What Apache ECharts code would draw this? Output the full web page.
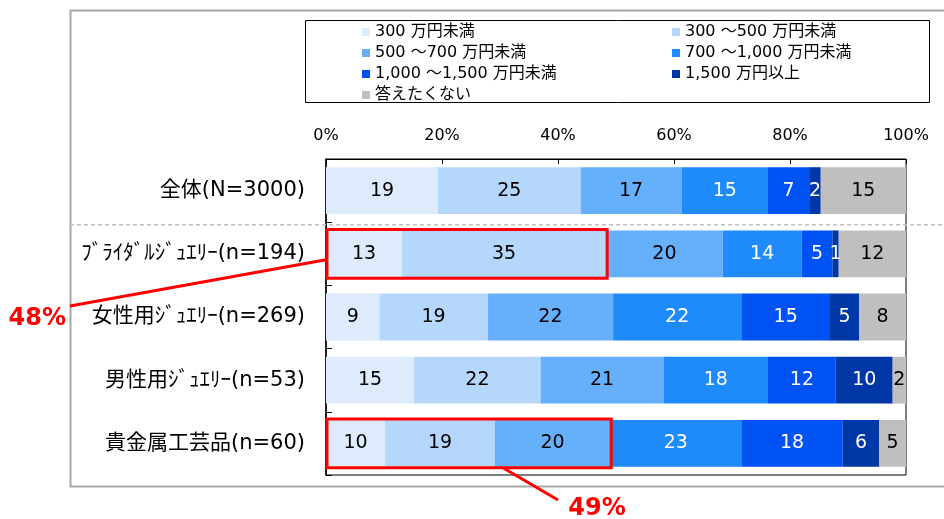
<!DOCTYPE html>
<html><head><meta charset="utf-8">
<script src="https://cdn.jsdelivr.net/npm/echarts@6/dist/echarts.min.js"></script>
<style>html,body{margin:0;padding:0;background:#fff}#c{width:944px;height:519px}</style>
</head><body><div id="c"></div>
<script>
// ---- data ----
const categories = ['全体(N=3000)', 'ﾌﾞﾗｲﾀﾞﾙｼﾞｭｴﾘｰ(n=194)', '女性用ｼﾞｭｴﾘｰ(n=269)', '男性用ｼﾞｭｴﾘｰ(n=53)', '貴金属工芸品(n=60)'];
const seriesNames = ['300 万円未満', '300 ～500 万円未満', '500 ～700 万円未満', '700 ～1,000 万円未満', '1,000 ～1,500 万円未満', '1,500 万円以上', '答えたくない'];
const under300   = [19.3, 13.1, 9.2, 15.2, 10.2];
const r300_500   = [24.6, 35.2, 18.7, 21.8, 18.9];
const r500_700   = [17.4, 20.1, 21.6, 21.2, 19.9];
const r700_1000  = [14.9, 13.6, 22.1, 18.0, 22.6];
const r1000_1500 = [7.1, 5.3, 15.3, 11.7, 17.5];
const over1500   = [2.0, 1.1, 5.0, 9.8, 6.3];
const noAnswer   = [14.7, 11.6, 8.1, 2.3, 4.6];
const xTicks = [0, 20, 40, 60, 80, 100];
const annotations = [{ cat: 1, upto: 2, text: '48%' }, { cat: 4, upto: 3, text: '49%' }];

const values = [under300, r300_500, r500_700, r700_1000, r1000_1500, over1500, noAnswer];
const colors = ['#DDEBFD', '#B5D7FB', '#66AFFB', '#1F8BFA', '#0052F2', '#0037A6', '#BFBFBF'];
const labelColors = ['#000', '#000', '#000', '#fff', '#fff', '#fff', '#000'];
const latin = 'DejaVu Sans, "Noto Sans CJK JP", sans-serif';

const chart = echarts.init(document.getElementById('c'), null, { renderer: 'canvas' });
const series = seriesNames.map((n, i) => ({
  name: n, type: 'bar', stack: 'total', data: values[i],
  barCategoryGap: '26%',
  itemStyle: { color: colors[i] },
  label: { show: true, position: 'inside', color: labelColors[i], fontSize: 19, fontFamily: latin,
           formatter: p => Math.round(p.value) },
  emphasis: { disabled: true }
}));

const legendText = { fontSize: 16, fontFamily: latin, color: '#000', lineHeight: 16 };
chart.setOption({
  animation: false,
  grid: { left: 326, right: 38, top: 159, bottom: 44, show: true, borderColor: '#000', borderWidth: 1, backgroundColor: 'transparent' },
  legend: [
    { data: [seriesNames[0], seriesNames[2], seriesNames[4], seriesNames[6]], orient: 'vertical', left: 357, top: 19,
      itemWidth: 8, itemHeight: 8, itemGap: 5, icon: 'rect', selectedMode: false, textStyle: legendText },
    { data: [seriesNames[1], seriesNames[3], seriesNames[5]], orient: 'vertical', left: 667, top: 19,
      itemWidth: 8, itemHeight: 8, itemGap: 5, icon: 'rect', selectedMode: false, textStyle: legendText }
  ],
  xAxis: {
    type: 'value', position: 'top', min: xTicks[0], max: xTicks[xTicks.length - 1], interval: 20,
    axisLine: { show: true, lineStyle: { color: '#000', width: 1 } },
    axisTick: { show: true, inside: true, length: 5, lineStyle: { color: '#000' } },
    splitLine: { show: false },
    axisLabel: { formatter: '{value}%', fontSize: 16, fontFamily: latin, color: '#000', margin: 15 }
  },
  yAxis: {
    type: 'category', inverse: true, data: categories,
    axisLine: { show: true, lineStyle: { color: '#000', width: 1.5 } },
    axisTick: { show: true, inside: true, length: 6, lineStyle: { color: '#000' } },
    axisLabel: { fontSize: 21, fontFamily: latin, color: '#000', margin: 21 }
  },
  series: series
});

// annotations computed via the library's scales
const px = v => chart.convertToPixel({ xAxisIndex: 0 }, v);
const py = c => chart.convertToPixel({ yAxisIndex: 0 }, c);
const band = py(1) - py(0);
const barH = band * (1 - 0.26);
const rects = annotations.map(a => {
  let s = 0; for (let k = 0; k < a.upto; k++) s += values[k][a.cat];
  const x0 = px(0), x1 = px(s), yc = py(a.cat);
  return { x0, x1, y0: yc - barH / 2 - 1, y1: yc + barH / 2 + 1, yc };
});
const red = '#FF0000';
const r1 = rects[0], r2 = rects[1];
chart.setOption({
  graphic: [
    { type: 'rect', shape: { x: 70.5, y: 10.5, width: 900, height: 476 }, style: { fill: 'none', stroke: '#A6A6A6', lineWidth: 2 }, z: 0 },
    { type: 'rect', shape: { x: 305.5, y: 20.5, width: 624, height: 82 }, style: { fill: 'none', stroke: '#000', lineWidth: 1 } },
    { type: 'line', shape: { x1: 70, y1: (py(0) + py(1)) / 2 + 2.5, x2: 944, y2: (py(0) + py(1)) / 2 + 2.5 }, style: { stroke: '#BFBFBF', lineWidth: 1.5, lineDash: [4, 3] }, z: 10 },
    { type: 'rect', shape: { x: r1.x0 + 1, y: r1.y0, width: r1.x1 - r1.x0, height: r1.y1 - r1.y0 }, style: { fill: 'none', stroke: red, lineWidth: 3 }, z: 20 },
    { type: 'rect', shape: { x: r2.x0 + 1, y: r2.y0, width: r2.x1 - r2.x0, height: r2.y1 - r2.y0 }, style: { fill: 'none', stroke: red, lineWidth: 3 }, z: 20 },
    { type: 'line', shape: { x1: r1.x0, y1: r1.yc + 6, x2: 70, y2: 306 }, style: { stroke: red, lineWidth: 3 }, z: 20 },
    { type: 'line', shape: { x1: px(30.5), y1: r2.y1, x2: 558, y2: 500 }, style: { stroke: red, lineWidth: 3 }, z: 20 },
    { type: 'text', style: { text: annotations[0].text, x: 66, y: 319, fill: red, font: 'bold 24px ' + latin, textAlign: 'right', textVerticalAlign: 'middle' }, z: 20 },
    { type: 'text', style: { text: annotations[1].text, x: 597, y: 509, fill: red, font: 'bold 24px ' + latin, textAlign: 'center', textVerticalAlign: 'middle' }, z: 20 }
  ]
});
</script></body></html>
